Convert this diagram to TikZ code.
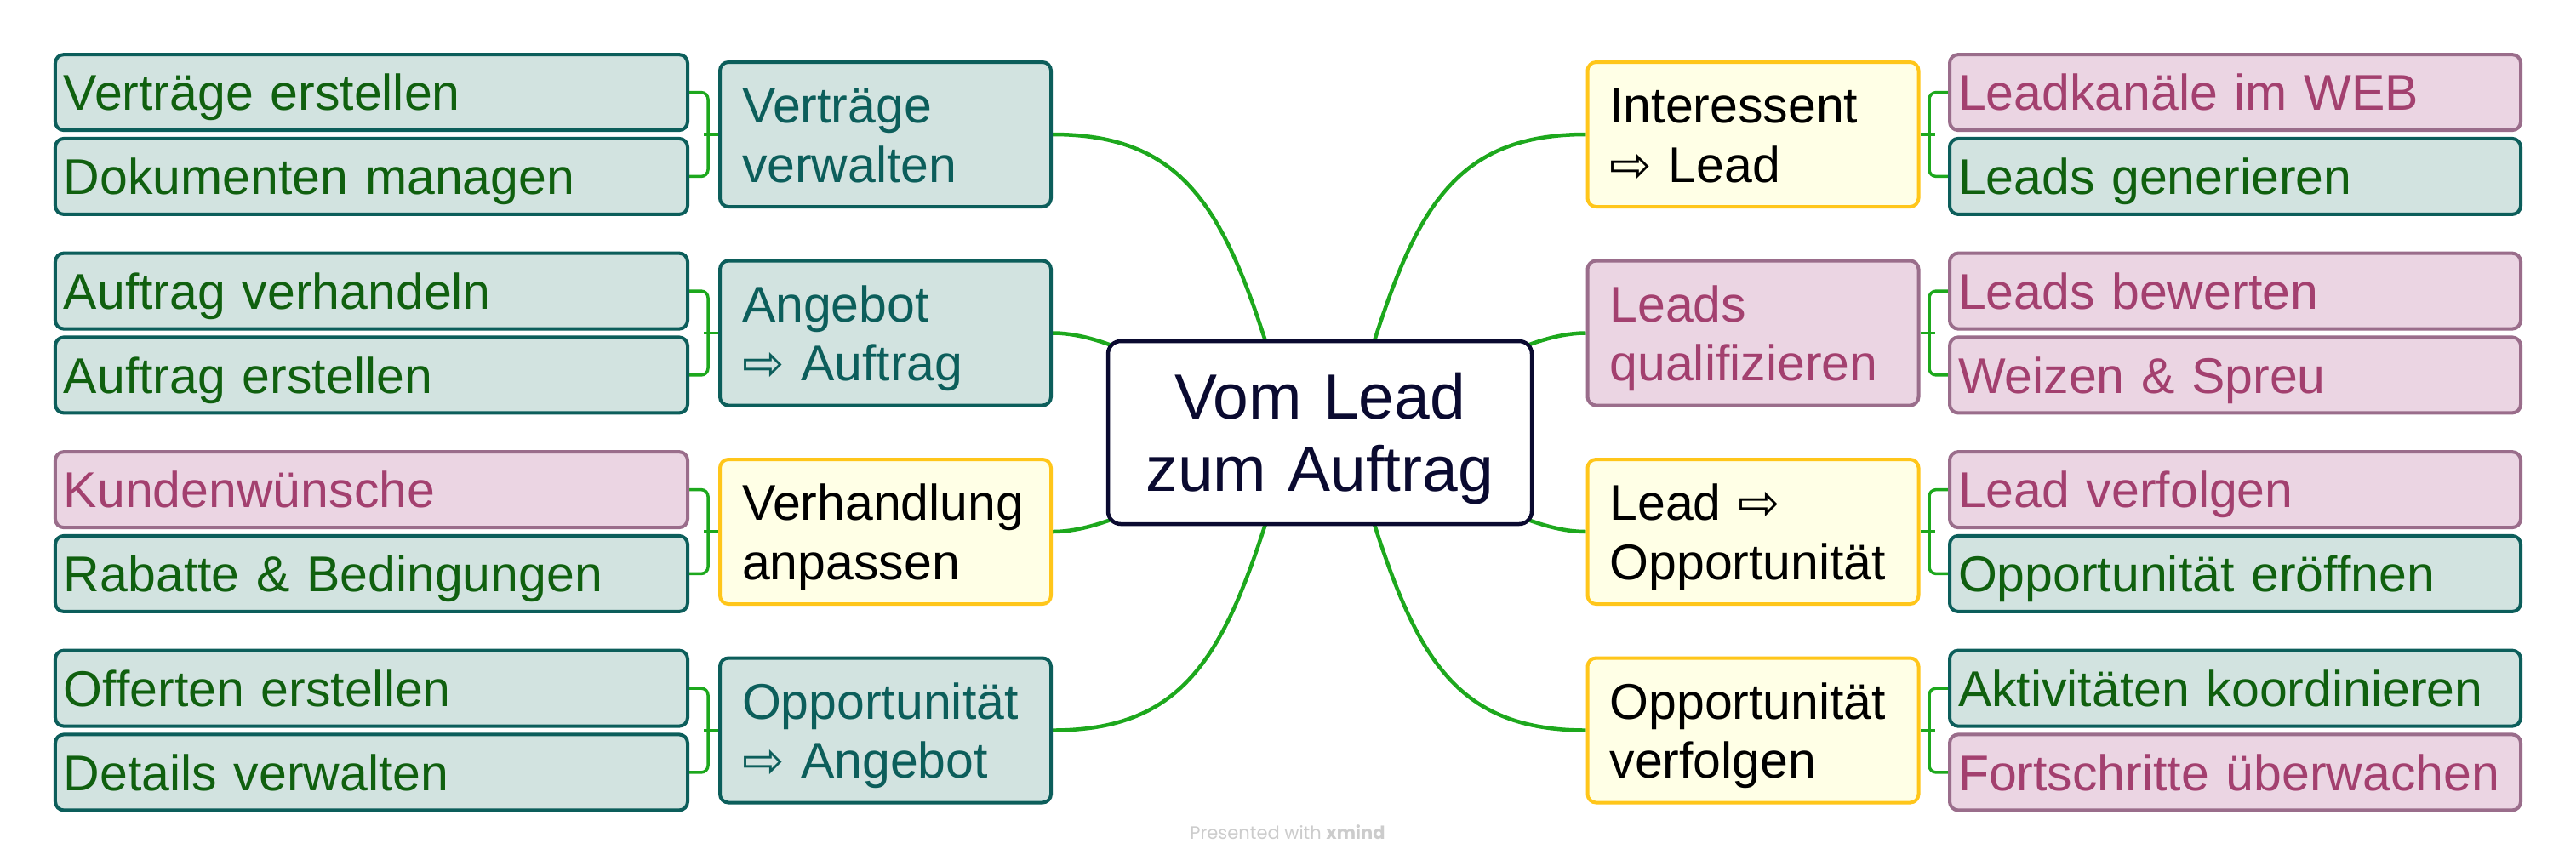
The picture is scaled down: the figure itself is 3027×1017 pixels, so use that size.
\documentclass[tikz,border=0pt]{standalone}
\usepackage{fontspec}
\setmainfont{Liberation Sans}
\newfontfamily\arrowfont{DejaVu Sans}
\newfontfamily\creditfont{Poppins}
\usepackage{xcolor}
\usepackage{tikz}
\usetikzlibrary{calc,backgrounds}
\definecolor{tealfill}{HTML}{D2E3E0}
\definecolor{tealline}{HTML}{0C5E5B}
\definecolor{leafgreen}{HTML}{10600F}
\definecolor{pinkfill}{HTML}{EBD5E3}
\definecolor{pinkline}{HTML}{9A6D8B}
\definecolor{pinktext}{HTML}{A3406F}
\definecolor{ylwfill}{HTML}{FFFFE6}
\definecolor{ylwline}{HTML}{FFC61A}
\definecolor{navy}{HTML}{0A0A30}
\definecolor{branchgreen}{HTML}{1DA81D}
\newcommand{\toarr}{{\arrowfont ⇨}}
\tikzset{
  box/.style={draw,line width=0.8pt,rounded corners=2pt,inner xsep=2pt,inner ysep=0pt,align=left,font=\fontsize{11.8}{13.9}\selectfont},
  leafL/.style={box,minimum width=148.6pt,text width=144.6pt,minimum height=17.8pt,text height=8.5pt,text depth=0pt},
  leafR/.style={leafL,minimum width=134.2pt,text width=130.2pt},
  topic/.style={box,inner xsep=5.2pt,minimum width=77.8pt,text width=67.4pt,minimum height=34pt,text height=8.5pt,text depth=13.9pt},
  tealbox/.style={fill=tealfill,draw=tealline,text=leafgreen},
  tealtopic/.style={fill=tealfill,draw=tealline,text=tealline},
  pinkbox/.style={fill=pinkfill,draw=pinkline,text=pinktext},
  ylwbox/.style={fill=ylwfill,draw=ylwline,text=black},
  branch/.style={branchgreen,line width=0.9pt},
  twig/.style={branchgreen,line width=0.7pt,rounded corners=1.6pt}
}
\begin{document}
\begin{tikzpicture}[x=0.2pt,y=-0.2pt]
\useasboundingbox (0,0) rectangle (3027,1017);
% central topic
\node[draw=navy,fill=white,line width=0.9pt,rounded corners=3pt,inner xsep=4.8pt,inner ysep=0pt,
  minimum width=99.6pt,minimum height=43pt,text width=90pt,align=center,text=navy,
  font=\fontsize{15}{17}\selectfont,text height=10.7pt,text depth=17pt] (hub) at (1551,508.5) {Vom Lead\\zum Auftrag};
\coordinate (hubL) at (1520,508.5);
\coordinate (hubR) at (1582,508.5);
% left topics
\node[topic,tealtopic] (vv) at (1040.5,158) {Verträge\\verwalten};
\node[topic,tealtopic] (aa) at (1040.5,391.5) {Angebot\\\toarr{} Auftrag};
\node[topic,ylwbox] (vh) at (1040.5,625) {Verhandlung\\anpassen};
\node[topic,tealtopic] (oa) at (1040.5,858.5) {Opportunität\\\toarr{} Angebot};
% right topics
\node[topic,ylwbox] (il) at (2060,158) {Interessent\\\toarr{} Lead};
\node[topic,pinkbox] (lq) at (2060,391.5) {Leads\\qualifizieren};
\node[topic,ylwbox] (lo) at (2060,625) {Lead \toarr\\Opportunität};
\node[topic,ylwbox] (ov) at (2060,858.5) {Opportunität\\verfolgen};
% left subtopics
\node[leafL,tealbox] (vv1) at (436.5,108.6) {Verträge erstellen};
\node[leafL,tealbox] (vv2) at (436.5,207.4) {Dokumenten managen};
\node[leafL,tealbox] (aa1) at (436.5,342.1) {Auftrag verhandeln};
\node[leafL,tealbox] (aa2) at (436.5,440.9) {Auftrag erstellen};
\node[leafL,pinkbox] (vh1) at (436.5,575.6) {Kundenwünsche};
\node[leafL,tealbox] (vh2) at (436.5,674.4) {Rabatte \& Bedingungen};
\node[leafL,tealbox] (oa1) at (436.5,809.1) {Offerten erstellen};
\node[leafL,tealbox] (oa2) at (436.5,907.9) {Details verwalten};
% right subtopics
\node[leafR,pinkbox] (il1) at (2626.5,108.6) {Leadkanäle im WEB};
\node[leafR,tealbox] (il2) at (2626.5,207.4) {Leads generieren};
\node[leafR,pinkbox] (lq1) at (2626.5,342.1) {Leads bewerten};
\node[leafR,pinkbox] (lq2) at (2626.5,440.9) {Weizen \& Spreu};
\node[leafR,pinkbox] (lo1) at (2626.5,575.6) {Lead verfolgen};
\node[leafR,tealbox] (lo2) at (2626.5,674.4) {Opportunität eröffnen};
\node[leafR,tealbox] (ov1) at (2626.5,809.1) {Aktivitäten koordinieren};
\node[leafR,pinkbox] (ov2) at (2626.5,907.9) {Fortschritte überwachen};
\node[text=black!20,font=\creditfont\fontsize{4.2}{5}\selectfont] (credit) at (1513,978) {Presented with \textbf{xmind}};
\begin{pgfonlayer}{background}
\fill[white] (0,0) rectangle (3027,1017);
% branches to the central topic
\draw[branch] (vv.east) .. controls +(180,0) and +(-69,-230) .. (hubL);
\draw[branch] (aa.east) .. controls +(82,0) and +(-100,-38.5) .. (hubL);
\draw[branch] (vh.east) .. controls +(82,0) and +(-100,38.5) .. (hubL);
\draw[branch] (oa.east) .. controls +(180,0) and +(-69,230) .. (hubL);
\draw[branch] (il.west) .. controls +(-180,0) and +(69,-230) .. (hubR);
\draw[branch] (lq.west) .. controls +(-82,0) and +(100,-38.5) .. (hubR);
\draw[branch] (lo.west) .. controls +(-82,0) and +(100,38.5) .. (hubR);
\draw[branch] (ov.west) .. controls +(-180,0) and +(69,230) .. (hubR);
% brackets
\draw[twig] (vv1.east) -- ++(22,0) |- (vv2.east);
\draw[twig] (aa1.east) -- ++(22,0) |- (aa2.east);
\draw[twig] (vh1.east) -- ++(22,0) |- (vh2.east);
\draw[twig] (oa1.east) -- ++(22,0) |- (oa2.east);
\draw[twig] (vv.west) -- ++(-17,0);
\draw[twig] (aa.west) -- ++(-17,0);
\draw[twig] (vh.west) -- ++(-17,0);
\draw[twig] (oa.west) -- ++(-17,0);
\draw[twig] (il1.west) -- ++(-22,0) |- (il2.west);
\draw[twig] (lq1.west) -- ++(-22,0) |- (lq2.west);
\draw[twig] (lo1.west) -- ++(-22,0) |- (lo2.west);
\draw[twig] (ov1.west) -- ++(-22,0) |- (ov2.west);
\draw[twig] (il.east) -- ++(17,0);
\draw[twig] (lq.east) -- ++(17,0);
\draw[twig] (lo.east) -- ++(17,0);
\draw[twig] (ov.east) -- ++(17,0);
\end{pgfonlayer}
\end{tikzpicture}
\end{document}
